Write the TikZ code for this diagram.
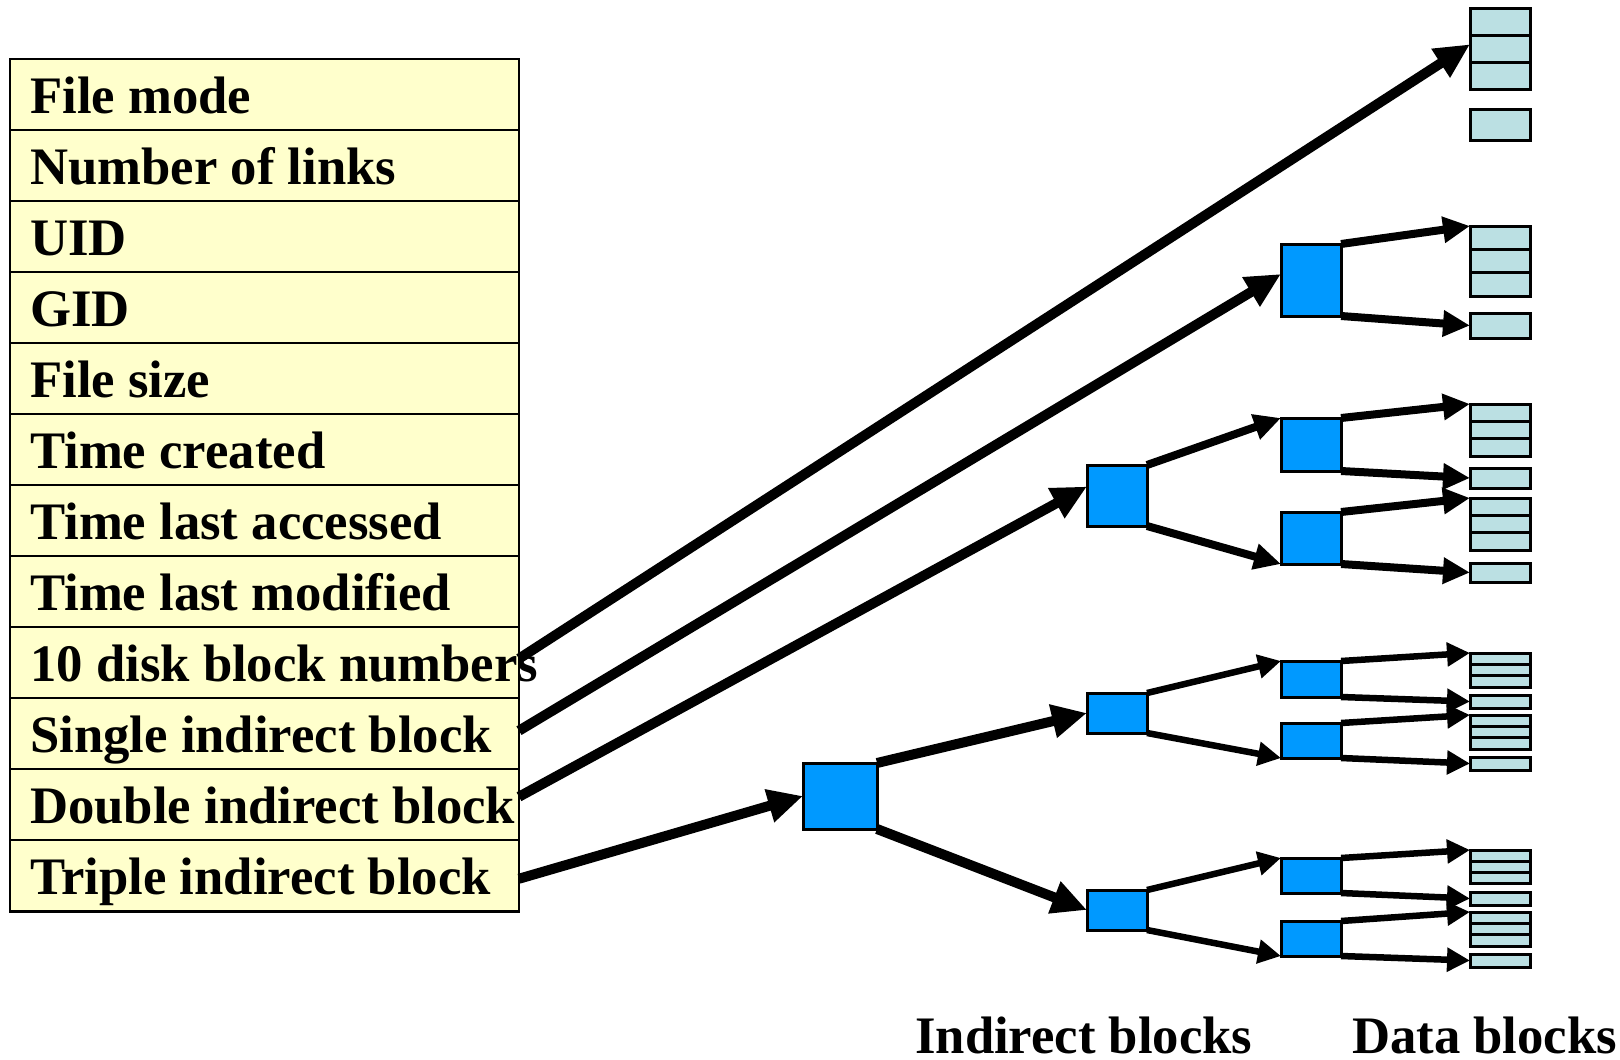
\documentclass[tikz,border=0pt]{standalone}
\usepackage{fontspec}
\setmainfont{Liberation Serif}
\usetikzlibrary{arrows.meta,calc}
\definecolor{rowfill}{HTML}{FFFFCC}
\definecolor{ptrblue}{HTML}{0099FF}
\definecolor{datafill}{HTML}{BBE0E3}

\begin{document}
\begin{tikzpicture}[x=1pt,y=-1pt,
  field/.style={draw, line width=2.5pt, fill=rowfill, minimum width=509pt,
    minimum height=71.03pt, inner sep=0pt, outer sep=0pt, anchor=north west},
  bigfont/.style={font=\fontsize{52.7pt}{60pt}\selectfont\bfseries},
  fieldtext/.style={bigfont, anchor=base west, inner sep=0pt},
  iblock/.style={draw, line width=3pt, fill=ptrblue, inner sep=0pt, outer sep=0pt},
  dblock/.style={draw, line width=3pt, fill=datafill, inner sep=0pt, outer sep=0pt,
    minimum width=60pt},
  cellline/.style={line width=3pt},
  bigptr/.style={line width=10pt, -{Triangle[length=35pt,width=32pt]}},
  midptr/.style={line width=8pt, -{Triangle[length=27pt,width=25pt]}},
  smallptr/.style={line width=6.5pt, -{Triangle[length=23pt,width=23pt]}},
]
% canvas
\fill[white] (0,0) rectangle (1620,1060);
\useasboundingbox (0,0) rectangle (1620,1060);

% inode fields
\foreach \k in {1,...,12}
  \node[field] (r\k) at (10,{58.9+71.03*(\k-1)}) {};
\foreach \k/\txt in {1/File mode, 2/Number of links, 3/UID, 4/GID, 5/File size,
    6/Time created, 7/Time last accessed, 8/Time last modified,
    9/10 disk block numbers, 10/Single indirect block,
    11/Double indirect block, 12/Triple indirect block}
  \node[fieldtext] (t\k) at (30,{58.9+71.03*(\k-1)+54.7}) {\txt};

% indirect blocks
\node[iblock, minimum width=60pt, minimum height=72pt] (I1) at (1311,280) {};
\node[iblock, minimum width=60pt, minimum height=61pt] (D1) at (1117,495.5) {};
\node[iblock, minimum width=60pt, minimum height=53pt] (D2a) at (1311,444.5) {};
\node[iblock, minimum width=60pt, minimum height=52pt] (D2b) at (1311,538) {};
\node[iblock, minimum width=74pt, minimum height=66pt] (T0) at (840,796) {};
\node[iblock, minimum width=60pt, minimum height=40pt] (T1a) at (1117,713) {};
\node[iblock, minimum width=60pt, minimum height=40pt] (T1b) at (1117,910) {};
\node[iblock, minimum width=60pt, minimum height=36pt] (T2aa) at (1311,679) {};
\node[iblock, minimum width=60pt, minimum height=35pt] (T2ab) at (1311,740.5) {};
\node[iblock, minimum width=60pt, minimum height=35pt] (T2ba) at (1311,875.5) {};
\node[iblock, minimum width=60pt, minimum height=35pt] (T2bb) at (1311,938.5) {};

% data blocks: stacks of three cells and single cells
\node[dblock, minimum height=81pt] (d0) at (1500,48.8) {};
\node[dblock, minimum height=31pt] (d0s) at (1500,124.5) {};
\node[dblock, minimum height=70pt] (d1) at (1500,261) {};
\node[dblock, minimum height=25pt] (d1s) at (1500,325.5) {};
\node[dblock, minimum height=52pt] (d2a) at (1500,430) {};
\node[dblock, minimum height=20pt] (d2as) at (1500,478) {};
\node[dblock, minimum height=52pt] (d2b) at (1500,524) {};
\node[dblock, minimum height=19pt] (d2bs) at (1500,572.5) {};
\node[dblock, minimum height=34pt] (d3aa) at (1500,670) {};
\node[dblock, minimum height=13pt] (d3aas) at (1500,701.5) {};
\node[dblock, minimum height=34pt] (d3ab) at (1500,732) {};
\node[dblock, minimum height=13pt] (d3abs) at (1500,763.5) {};
\node[dblock, minimum height=33pt] (d3ba) at (1500,866.5) {};
\node[dblock, minimum height=13pt] (d3bas) at (1500,898.5) {};
\node[dblock, minimum height=34pt] (d3bb) at (1500,929) {};
\node[dblock, minimum height=13pt] (d3bbs) at (1500,960.5) {};
\foreach \s in {d0,d1,d2a,d2b,d3aa,d3ab,d3ba,d3bb} {
  \draw[cellline] ($(\s.north west)!1/3!(\s.south west)$) -- ($(\s.north east)!1/3!(\s.south east)$);
  \draw[cellline] ($(\s.north west)!2/3!(\s.south west)$) -- ($(\s.north east)!2/3!(\s.south east)$);
}

% pointers from the inode
\draw[bigptr] ($(r9.east)+(0,-4)$) -- ($(d0.north west)+(0,36)$);
\draw[bigptr] ($(r10.east)+(0,-3)$) -- ($(I1.west)+(0,-6)$);
\draw[bigptr] ($(r11.east)+(0,-8)$) -- ($(D1.west)+(0,-9)$);
\draw[bigptr] ($(r12.east)+(0,3)$) -- (T0.west);

% single indirect
\draw[midptr] (I1.north east) -- (d1.north west);
\draw[midptr] (I1.south east) -- (d1s.west);

% double indirect
\draw[midptr] (D1.north east) -- (D2a.north west);
\draw[midptr] (D1.south east) -- (D2b.south west);
\draw[midptr] (D2a.north east) -- (d2a.north west);
\draw[midptr] (D2a.south east) -- (d2as.west);
\draw[midptr] (D2b.north east) -- (d2b.north west);
\draw[midptr] (D2b.south east) -- (d2bs.west);

% triple indirect
\draw[bigptr] (T0.north east) -- (T1a.west);
\draw[bigptr] (T0.south east) -- (T1b.west);
\draw[smallptr] (T1a.north east) -- (T2aa.north west);
\draw[smallptr] (T1a.south east) -- (T2ab.south west);
\draw[smallptr] (T1b.north east) -- (T2ba.north west);
\draw[smallptr] (T1b.south east) -- (T2bb.south west);
\draw[smallptr] (T2aa.north east) -- (d3aa.north west);
\draw[smallptr] (T2aa.south east) -- (d3aas.west);
\draw[smallptr] (T2ab.north east) -- (d3ab.north west);
\draw[smallptr] (T2ab.south east) -- (d3abs.west);
\draw[smallptr] (T2ba.north east) -- (d3ba.north west);
\draw[smallptr] (T2ba.south east) -- (d3bas.west);
\draw[smallptr] (T2bb.north east) -- (d3bb.north west);
\draw[smallptr] (T2bb.south east) -- (d3bbs.west);

% column captions
\node[bigfont, anchor=base west, inner sep=0pt] (capI) at (915,1053) {Indirect blocks};
\node[bigfont, anchor=base west, inner sep=0pt] (capD) at (1352,1053) {Data blocks};
\end{tikzpicture}
\end{document}
